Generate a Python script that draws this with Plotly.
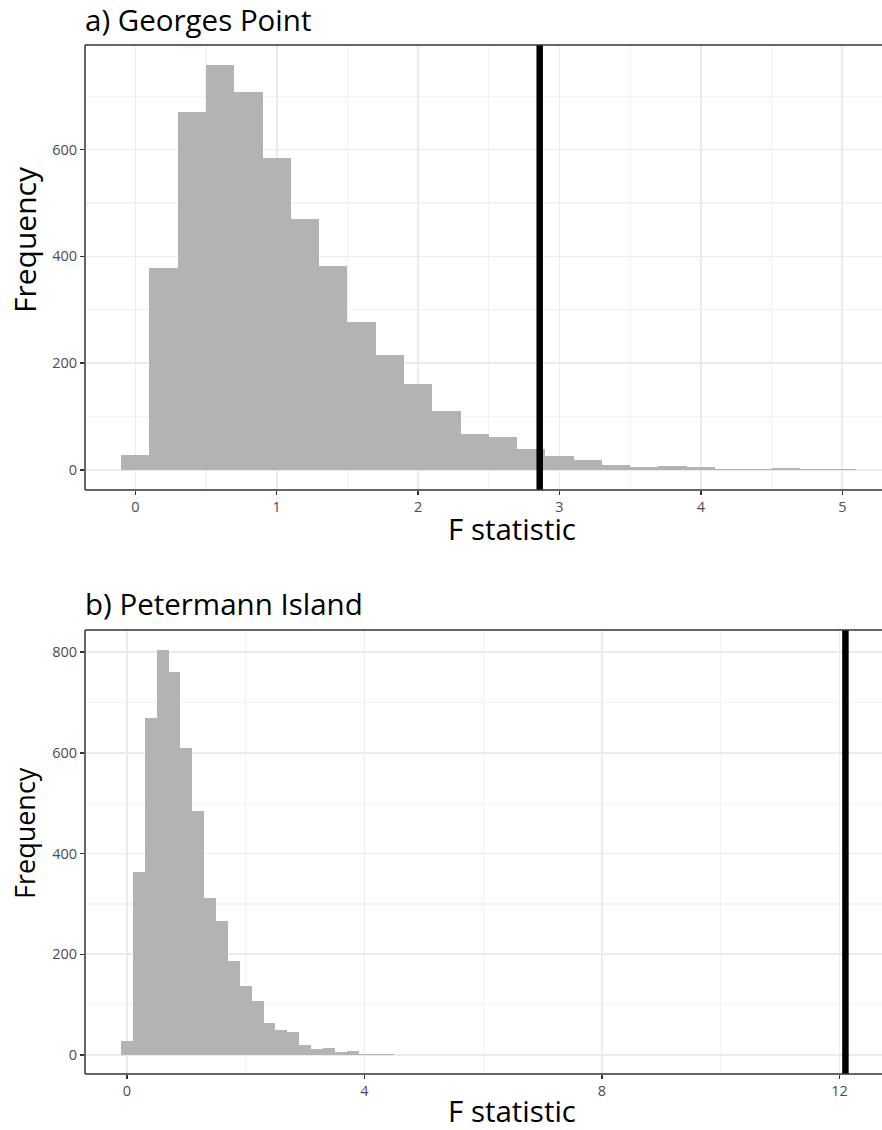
import plotly.graph_objects as go

# ---- data ----
BIN_WIDTH = 0.2
gp_bin_centers = [0.0, 0.2, 0.4, 0.6, 0.8, 1.0, 1.2, 1.4, 1.6, 1.8, 2.0, 2.2, 2.4, 2.6,
                  2.8, 3.0, 3.2, 3.4, 3.6, 3.8, 4.0, 4.2, 4.4, 4.6, 4.8, 5.0]
gp_counts = [28, 378, 671, 758, 708, 585, 470, 381, 277, 215, 160, 110, 67, 61,
             39, 25, 19, 9, 5, 8, 6, 2, 2, 4, 2, 1]
gp_observed_F = 2.86

pi_bin_centers = [0.0, 0.2, 0.4, 0.6, 0.8, 1.0, 1.2, 1.4, 1.6, 1.8, 2.0, 2.2, 2.4, 2.6,
                  2.8, 3.0, 3.2, 3.4, 3.6, 3.8, 4.0, 4.2, 4.4, 4.6, 4.8, 5.0, 5.2, 5.4]
pi_counts = [28, 363, 669, 805, 761, 610, 484, 311, 267, 186, 138, 108, 63, 50,
             45, 19, 12, 13, 6, 7, 3, 2, 2, 1, 1, 0, 1, 1]
pi_observed_F = 12.1

gp_title = "a) Georges Point"
pi_title = "b) Petermann Island"
x_title = "F statistic"
y_title = "Frequency"

# ---- layout helpers (reference pixel -> paper) ----
W, H = 882, 1130
def px(x):
    return x / W
def py(y):
    return 1 - y / H

FONT = "Open Sans"
BAR_COLOR = "#b3b3b3"
GRID = "#ebebeb"
GRID_MINOR = "#f2f2f2"
AXIS_COL = "#333333"
TICK_FONT = dict(family=FONT, size=14.5, color="#4d4d4d")

fig = go.Figure()
fig.add_trace(go.Bar(x=gp_bin_centers, y=gp_counts, width=BIN_WIDTH,
                     marker=dict(color=BAR_COLOR, line=dict(width=0)),
                     xaxis="x", yaxis="y", showlegend=False, hoverinfo="x+y"))
fig.add_trace(go.Bar(x=pi_bin_centers, y=pi_counts, width=BIN_WIDTH,
                     marker=dict(color=BAR_COLOR, line=dict(width=0)),
                     xaxis="x2", yaxis="y2", showlegend=False, hoverinfo="x+y"))

# observed F lines
fig.add_shape(type="line", xref="x", yref="y domain", x0=gp_observed_F, x1=gp_observed_F,
              y0=0, y1=1, line=dict(color="black", width=6.5), layer="above")
fig.add_shape(type="line", xref="x2", yref="y2 domain", x0=pi_observed_F, x1=pi_observed_F,
              y0=0, y1=1, line=dict(color="black", width=6.5), layer="above")

# panel borders (left, top, bottom; right edge lies outside the picture)
for xa, ya in (("x", "y"), ("x2", "y2")):
    border = dict(color=AXIS_COL, width=1.5)
    fig.add_shape(type="line", xref=xa + " domain", yref=ya + " domain",
                  x0=0, x1=0, y0=0, y1=1, line=border, layer="above")
    fig.add_shape(type="line", xref=xa + " domain", yref=ya + " domain",
                  x0=0, x1=1.01, y0=1, y1=1, line=border, layer="above")
    fig.add_shape(type="line", xref=xa + " domain", yref=ya + " domain",
                  x0=0, x1=1.01, y0=0, y1=0, line=border, layer="above")

xdom = [px(85), 1.0]
common = dict(showline=False, ticks="outside", ticklen=4, tickwidth=1.5, tickcolor=AXIS_COL,
              tickfont=TICK_FONT, showgrid=True, gridcolor=GRID, gridwidth=1.6,
              zeroline=False, automargin=False)

fig.update_layout(
    width=W, height=H,
    margin=dict(l=0, r=0, t=0, b=0),
    paper_bgcolor="white", plot_bgcolor="white",
    bargap=0, showlegend=False, hovermode=False,
    font=dict(family=FONT, color="black"),
    xaxis=dict(domain=xdom, anchor="y", range=[-0.356, 5.281],
               tickvals=[0, 1, 2, 3, 4, 5], ticktext=["0", "1", "2", "3", "4", "5"],
               minor=dict(tickvals=[0.5, 1.5, 2.5, 3.5, 4.5], showgrid=True,
                          gridcolor=GRID_MINOR, gridwidth=1.2, ticks=""),
               **common),
    yaxis=dict(domain=[py(490), py(45)], anchor="x", range=[-37.9, 796],
               tickvals=[0, 200, 400, 600], ticktext=["0", "200", "400", "600"],
               minor=dict(tickvals=[100, 300, 500, 700], showgrid=True,
                          gridcolor=GRID_MINOR, gridwidth=1.2, ticks=""),
               **common),
    xaxis2=dict(domain=xdom, anchor="y2", range=[-0.707, 12.716],
                tickvals=[0, 4, 8, 12], ticktext=["0", "4", "8", "12"],
                minor=dict(tickvals=[2, 6, 10], showgrid=True,
                           gridcolor=GRID_MINOR, gridwidth=1.2, ticks=""),
                **common),
    yaxis2=dict(domain=[py(1074), py(630)], anchor="x2", range=[-37.7, 844],
                tickvals=[0, 200, 400, 600, 800], ticktext=["0", "200", "400", "600", "800"],
                minor=dict(tickvals=[100, 300, 500, 700], showgrid=True,
                           gridcolor=GRID_MINOR, gridwidth=1.2, ticks=""),
                **common),
)

def note(text, x, y, size, angle=0, xanchor="center"):
    return dict(text=text, x=px(x), y=py(y), xref="paper", yref="paper",
                xanchor=xanchor, yanchor="middle", showarrow=False, textangle=angle,
                font=dict(family=FONT, size=size, color="black"))

ann = [
    note(gp_title, 83, 19, 29.5, xanchor="left"),
    note(pi_title, 83, 603, 29.5, xanchor="left"),
    note(x_title, 512, 528, 29.5),
    note(x_title, 512, 1110, 29.5),
    note(y_title, 24, 240, 30, angle=-90),
    note(y_title, 24, 833, 27, angle=-90),
]
fig.update_layout(annotations=ann)

# remove the default page margin so the figure fills the 882x1130 window exactly
fig.write_html("out.html", config={"displayModeBar": False, "staticPlot": True},
               post_script="document.body.style.margin='0';document.body.style.overflow='hidden';")
